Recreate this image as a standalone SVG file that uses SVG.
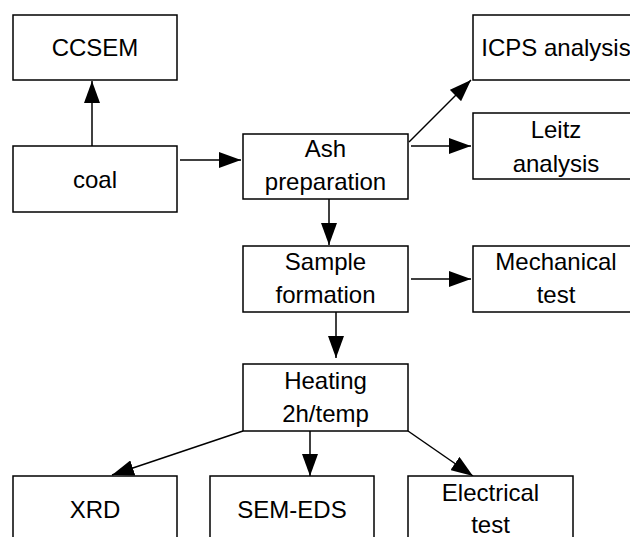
<svg xmlns="http://www.w3.org/2000/svg" width="630" height="537" viewBox="0 0 630 537">
<defs>
<style>
.box{fill:#fff;stroke:#000;stroke-width:1.5}
.t{font-family:"Liberation Sans",Arial,sans-serif;font-size:24px;fill:#000;text-anchor:middle}
.c{fill:none;stroke:#000;stroke-width:1.5}
</style>
<marker id="ah" markerUnits="userSpaceOnUse" markerWidth="24" markerHeight="16" refX="22" refY="8" orient="auto">
<path d="M0,0 L22,8 L0,16 Z" fill="#000"/>
</marker>
</defs>
<rect width="630" height="537" fill="#fff"/>
<g id="connectors">
<line class="c" x1="92" y1="146" x2="92" y2="81" marker-end="url(#ah)"/>
<line class="c" x1="180" y1="160" x2="241" y2="160" marker-end="url(#ah)"/>
<line class="c" x1="409" y1="142" x2="471" y2="80" marker-end="url(#ah)"/>
<line class="c" x1="411" y1="146" x2="471" y2="146" marker-end="url(#ah)"/>
<line class="c" x1="329" y1="199" x2="329" y2="245" marker-end="url(#ah)"/>
<line class="c" x1="411" y1="279" x2="471" y2="279" marker-end="url(#ah)"/>
<line class="c" x1="336" y1="312" x2="336" y2="358" marker-end="url(#ah)"/>
<line class="c" x1="243" y1="431" x2="112" y2="475" marker-end="url(#ah)"/>
<line class="c" x1="310" y1="431" x2="310" y2="476" marker-end="url(#ah)"/>
<line class="c" x1="408" y1="431" x2="473" y2="476" marker-end="url(#ah)"/>
</g>
<g id="ccsem"><rect class="box" x="13" y="15" width="164" height="65"/><text class="t" x="95" y="56">CCSEM</text></g>
<g id="coal"><rect class="box" x="13" y="146" width="164" height="66"/><text class="t" x="95" y="188">coal</text></g>
<g id="ash"><rect class="box" x="243" y="134" width="165" height="65"/><text class="t" x="325.5" y="157">Ash</text><text class="t" x="325.5" y="190">preparation</text></g>
<g id="icps"><rect class="box" x="473" y="15" width="170" height="65"/><text class="t" x="556" y="56">ICPS analysis</text></g>
<g id="leitz"><rect class="box" x="473" y="113" width="170" height="66"/><text class="t" x="556" y="138">Leitz</text><text class="t" x="556" y="172">analysis</text></g>
<g id="sample"><rect class="box" x="243" y="246" width="165" height="66"/><text class="t" x="325.5" y="270">Sample</text><text class="t" x="325.5" y="303">formation</text></g>
<g id="mechanical"><rect class="box" x="473" y="246" width="170" height="66"/><text class="t" x="556" y="270">Mechanical</text><text class="t" x="556" y="303">test</text></g>
<g id="heating"><rect class="box" x="243" y="364" width="165" height="67"/><text class="t" x="325.5" y="389">Heating</text><text class="t" x="325.5" y="422">2h/temp</text></g>
<g id="xrd"><rect class="box" x="13" y="476" width="164" height="70"/><text class="t" x="95" y="518">XRD</text></g>
<g id="semeds"><rect class="box" x="210" y="476" width="164" height="70"/><text class="t" x="292" y="518">SEM-EDS</text></g>
<g id="electrical"><rect class="box" x="408" y="476" width="165" height="70"/><text class="t" x="490.5" y="501">Electrical</text><text class="t" x="490.5" y="533">test</text></g>
</svg>
